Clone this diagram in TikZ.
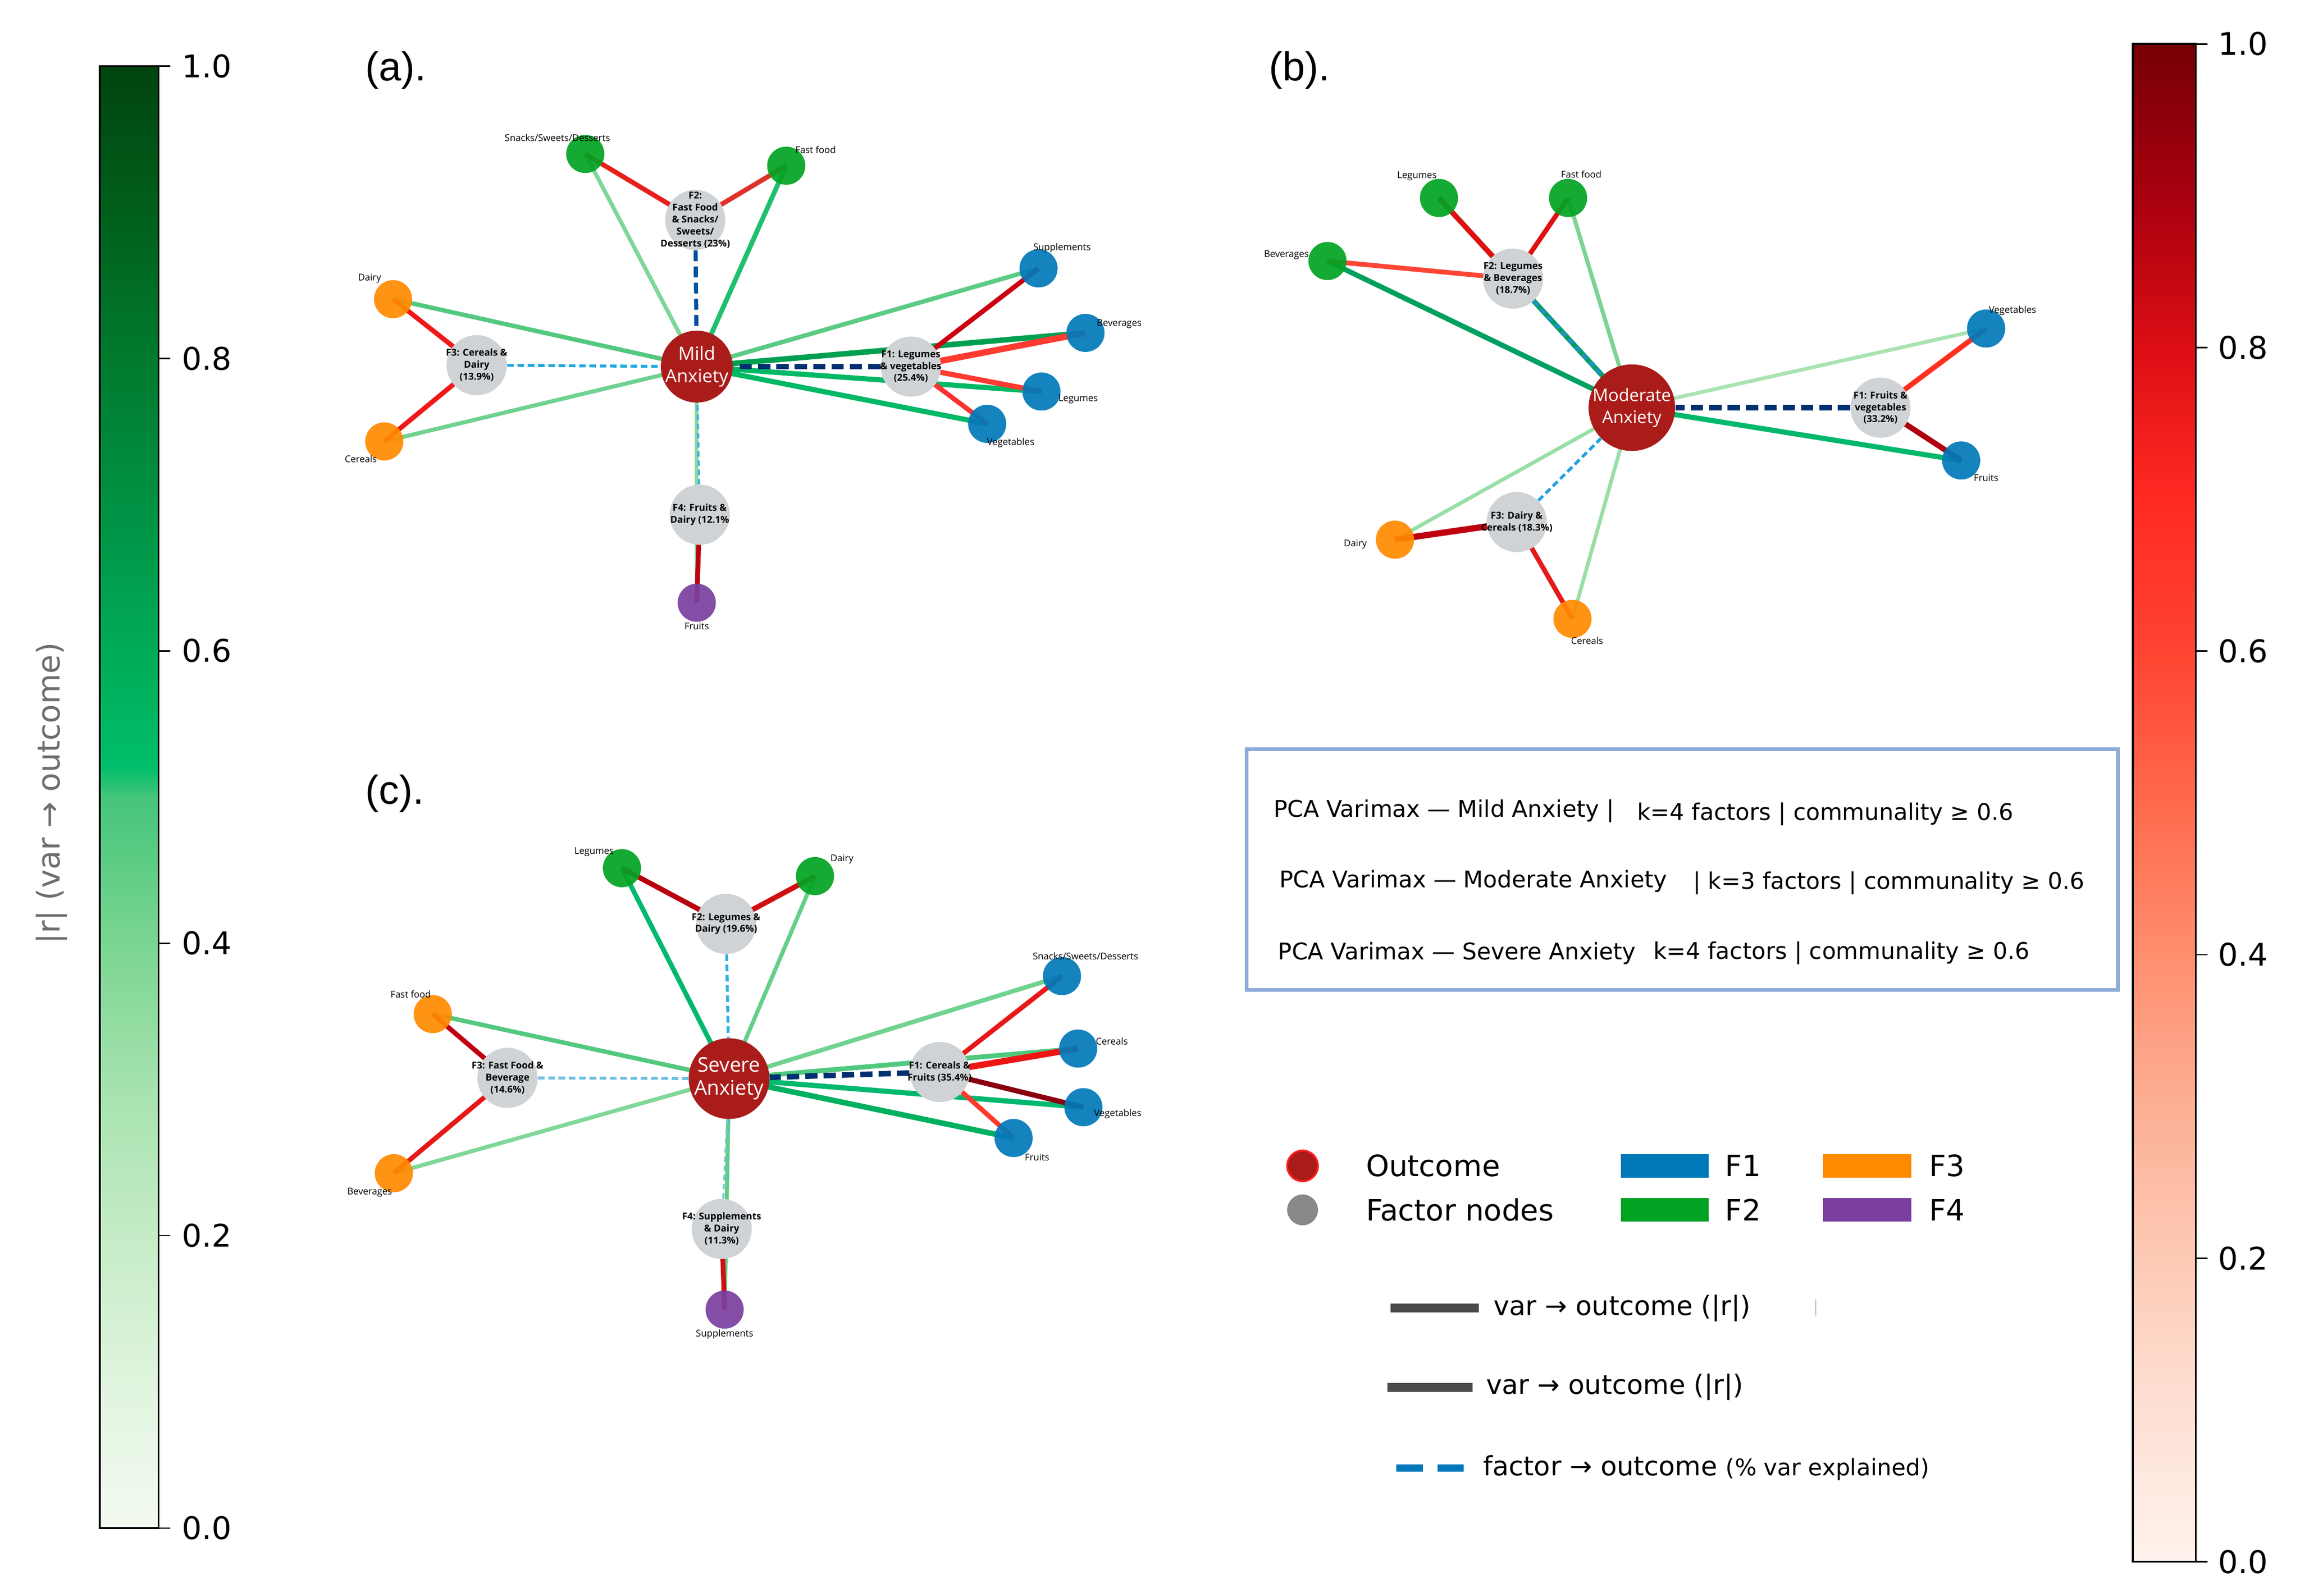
\documentclass[tikz,border=0pt]{standalone}
\usepackage{fontspec}
\setmainfont{DejaVu Sans}
\newfontfamily\osf{Open Sans}
\newfontfamily\lsf{Liberation Sans}
\pgfdeclarelayer{bg}
\pgfsetlayers{bg,main}
\definecolor{outred}{HTML}{A91C1A}
\definecolor{facgray}{HTML}{D0D3D6}
\definecolor{vblue}{HTML}{0079B9}
\definecolor{vgreen}{HTML}{02A323}
\definecolor{vorange}{HTML}{FF8A00}
\definecolor{vpurple}{HTML}{7A3FA0}
\definecolor{boxblue}{HTML}{8EAAD8}
\definecolor{legdark}{HTML}{4A4A48}
\definecolor{legblue}{HTML}{0077BB}
\definecolor{legred}{HTML}{FF2020}
\definecolor{leggray}{HTML}{888888}
\definecolor{cblabel}{HTML}{6E6E6E}
% green colormap stops
\definecolor{gA}{HTML}{F3FAF1}
\definecolor{gB}{HTML}{E0F4DE}
\definecolor{gC}{HTML}{C5ECC6}
\definecolor{gD}{HTML}{A6E2AE}
\definecolor{gE}{HTML}{7AD592}
\definecolor{gF}{HTML}{45C57A}
\definecolor{gG}{HTML}{00BE6A}
\definecolor{gH}{HTML}{00AB56}
\definecolor{gI}{HTML}{009143}
\definecolor{gJ}{HTML}{007A2E}
\definecolor{gK}{HTML}{005F1C}
\definecolor{gL}{HTML}{00440E}
% red colormap stops
\definecolor{rA}{HTML}{FFF2EC}
\definecolor{rB}{HTML}{FEE0D4}
\definecolor{rC}{HTML}{FDCAB5}
\definecolor{rD}{HTML}{FCAF94}
\definecolor{rE}{HTML}{FF8E6E}
\definecolor{rF}{HTML}{FF6A4C}
\definecolor{rG}{HTML}{FF4430}
\definecolor{rH}{HTML}{FF2A22}
\definecolor{rI}{HTML}{DC0E14}
\definecolor{rJ}{HTML}{A8000F}
\definecolor{rK}{HTML}{760005}
\begin{document}
\begin{tikzpicture}[x=0.02808cm, y=-0.02808cm,
  outc/.style={circle, fill=outred, inner sep=0pt, minimum size=#1*0.02808cm},
  varn/.style={circle, fill=#1, fill opacity=0.92, inner sep=0pt, minimum size=26*0.02808cm},
  facn/.style={circle, fill=facgray, inner sep=0pt, minimum size=41*0.02808cm},
  factxt/.style={font=\osf\bfseries\fontsize{5.2}{6.5}\selectfont, align=center, inner sep=0pt, text=black},
  outtxt/.style 2 args={font=\osf\fontsize{#1}{#2}\selectfont, align=center, inner sep=0pt, text=white},
  vlab/.style={font=\osf\fontsize{5.1}{6.5}\selectfont, inner sep=0pt, text=black},
  E/.style 2 args={/utils/exec={\definecolor{ec}{HTML}{#1}}, draw=ec, line width=#2pt},
  D/.style n args={4}{E={#1}{#2}, dash pattern=on #3pt off #4pt},
  plab/.style={font=\lsf\fontsize{22}{26}\selectfont, inner sep=0pt, anchor=west},
  ticklab/.style={font=\fontsize{17}{20}\selectfont, inner sep=0pt, anchor=west},
  pcat/.style={font=\fontsize{12.5}{15}\selectfont, inner sep=0pt, anchor=west},
  legt/.style={font=\fontsize{16}{19}\selectfont, inner sep=0pt, anchor=west},
  legl/.style={font=\fontsize{14.5}{17}\selectfont, inner sep=0pt, anchor=west}
]
\useasboundingbox (0,0) rectangle (1568,1088);
\begin{pgfonlayer}{bg}
\fill[white] (0,0) rectangle (1568,1088);
\end{pgfonlayer}

% ================= Panel (a) =================
\node[plab] (labA) at (249,48) {(a).};
\node[outc=49, label={[outtxt={10}{12.2}]center:{Mild\\Anxiety}}] (aMild) at (475,250) {};
\node[facn, label={[factxt]center:{F2:\\Fast Food\\\& Snacks/\\Sweets/\\Desserts (23\%)}}] (aF2) at (474,150) {};
\node[facn, label={[factxt]center:{F3: Cereals \&\\Dairy\\(13.9\%)}}] (aF3) at (325,249) {};
\node[facn, label={[factxt]center:{F1: Legumes\\\& vegetables\\(25.4\%)}}] (aF1) at (621,250) {};
\node[facn, label={[factxt]center:{F4: Fruits \&\\Dairy (12.1\%}}] (aF4) at (477,351) {};
\node[varn=vgreen] (aSnack) at (399,105) {};
\node[varn=vgreen] (aFast) at (536,113) {};
\node[varn=vorange] (aDairy) at (268,204) {};
\node[varn=vorange] (aCer) at (262,301) {};
\node[varn=vblue] (aSupp) at (708,183) {};
\node[varn=vblue] (aBev) at (740,227) {};
\node[varn=vblue] (aLeg) at (710,267) {};
\node[varn=vblue] (aVeg) at (673,289) {};
\node[varn=vpurple] (aFruit) at (475,411) {};
\node[vlab] (aSnackL) at (380,94) {Snacks/Sweets/Desserts};
\node[vlab] (aFastL) at (556,102) {Fast food};
\node[vlab] (aDairyL) at (252,190) {Dairy};
\node[vlab] (aCerL) at (246,313) {Cereals};
\node[vlab] (aSuppL) at (724,169) {Supplements};
\node[vlab] (aBevL) at (763,221) {Beverages};
\node[vlab] (aLegL) at (735,272) {Legumes};
\node[vlab] (aVegL) at (689,302) {Vegetables};
\node[vlab] (aFruitL) at (475,427) {Fruits};

% ================= Panel (b) =================
\node[plab] (labB) at (865,48) {(b).};
\node[outc=59, label={[outtxt={9.4}{12}]center:{Moderate\\Anxiety}}] (bMod) at (1112.5,278) {};
\node[facn, label={[factxt]center:{F2: Legumes\\\& Beverages\\(18.7\%)}}] (bF2) at (1031.5,190) {};
\node[facn, label={[factxt]center:{F1: Fruits \&\\vegetables\\(33.2\%)}}] (bF1) at (1282,278) {};
\node[facn, label={[factxt]center:{F3: Dairy \&\\Cereals (18.3\%)}}] (bF3) at (1034,356) {};
\node[varn=vgreen] (bLeg) at (981,135) {};
\node[varn=vgreen] (bFast) at (1069,135) {};
\node[varn=vgreen] (bBev) at (905,178) {};
\node[varn=vblue] (bVeg) at (1354,224) {};
\node[varn=vblue] (bFruit) at (1337,314) {};
\node[varn=vorange] (bDairy) at (951,368) {};
\node[varn=vorange] (bCer) at (1072,422) {};
\node[vlab] (bLegL) at (966,120) {Legumes};
\node[vlab] (bFastL) at (1078,119) {Fast food};
\node[vlab] (bBevL) at (877,174) {Beverages};
\node[vlab] (bVegL) at (1372,212) {Vegetables};
\node[vlab] (bFruitL) at (1354,326) {Fruits};
\node[vlab] (bDairyL) at (924,371) {Dairy};
\node[vlab] (bCerL) at (1082,437) {Cereals};

% ================= Panel (c) =================
\node[plab] (labC) at (249,541) {(c).};
\node[outc=55, label={[outtxt={11}{12.6}]center:{Severe\\Anxiety}}] (cSev) at (497,735.5) {};
\node[facn, label={[factxt]center:{F2: Legumes \&\\Dairy (19.6\%)}}] (cF2) at (495,630) {};
\node[facn, label={[factxt]center:{F3: Fast Food \&\\Beverage\\(14.6\%)}}] (cF3) at (346,735) {};
\node[facn, label={[factxt]center:{F1: Cereals \&\\Fruits (35.4\%)}}] (cF1) at (640.6,731) {};
\node[facn, label={[factxt]center:{F4: Supplements\\\& Dairy\\(11.3\%)}}] (cF4) at (492,838) {};
\node[varn=vgreen] (cLeg) at (424,592) {};
\node[varn=vgreen] (cDairy) at (555.6,597.4) {};
\node[varn=vorange] (cFast) at (295,691.5) {};
\node[varn=vorange] (cBev) at (268.5,800) {};
\node[varn=vblue] (cSnack) at (724,665.6) {};
\node[varn=vblue] (cCer) at (735,715) {};
\node[varn=vblue] (cVeg) at (738.6,755) {};
\node[varn=vblue] (cFruit) at (691,776) {};
\node[varn=vpurple] (cSupp) at (494,893) {};
\node[vlab] (cLegL) at (405,581) {Legumes};
\node[vlab] (cDairyL) at (574,586) {Dairy};
\node[vlab] (cFastL) at (280,678) {Fast food};
\node[vlab] (cBevL) at (252,813) {Beverages};
\node[vlab] (cSnackL) at (740,652) {Snacks/Sweets/Desserts};
\node[vlab] (cCerL) at (758,710) {Cereals};
\node[vlab] (cVegL) at (762,759.6) {Vegetables};
\node[vlab] (cFruitL) at (707,789) {Fruits};
\node[vlab] (cSuppL) at (494,909.7) {Supplements};

% ================= Edges =================
\begin{pgfonlayer}{bg}
% --- (a) green: var -> outcome
\draw[E={7FD69A}{2.2}] (aSnack.center) -- (aMild.center);
\draw[E={1FBF6E}{2.6}] (aFast.center) -- (aMild.center);
\draw[E={55C880}{2.4}] (aDairy.center) -- (aMild.center);
\draw[E={6FD290}{2.2}] (aCer.center) -- (aMild.center);
\draw[E={5CCB84}{2.4}] (aSupp.center) -- (aMild.center);
\draw[E={00A050}{3.0}] (aBev.center) -- (aMild.center);
\draw[E={00B865}{2.8}] (aLeg.center) -- (aMild.center);
\draw[E={00B865}{2.8}] (aVeg.center) -- (aMild.center);
\draw[E={8AD9A0}{2.0}] (aFruit.center) -- (aMild.center);
% --- (a) red: factor -> var
\draw[E={E8201C}{2.6}] (aF2.center) -- (aSnack.center);
\draw[E={E0302A}{2.6}] (aF2.center) -- (aFast.center);
\draw[E={F01818}{2.6}] (aF3.center) -- (aDairy.center);
\draw[E={F01818}{2.6}] (aF3.center) -- (aCer.center);
\draw[E={CC0010}{2.6}] (aF1.center) -- (aSupp.center);
\draw[E={FF3A30}{3.4}] (aF1.center) -- (aBev.center);
\draw[E={FF3A30}{2.8}] (aF1.center) -- (aLeg.center);
\draw[E={FF3030}{2.6}] (aF1.center) -- (aVeg.center);
\draw[E={C00010}{2.6}] (aF4.center) -- (aFruit.center);
% --- (a) dashed: factor -> outcome
\draw[D={0050A0}{2.2}{5.9}{2.9}] (aF2) -- (aMild);
\draw[D={20A8E0}{1.6}{3.6}{2}] (aF3) -- (aMild);
\draw[D={003070}{3}{6.7}{3.3}] (aF1) -- (aMild);
\draw[D={40B0E0}{1.2}{3}{2}] (aF4) -- (aMild);

% --- (b) green
\draw[E={00A060}{2.8}] (bLeg.center) -- (bMod.center);
\draw[E={7DD393}{2.2}] (bFast.center) -- (bMod.center);
\draw[E={00A060}{2.8}] (bBev.center) -- (bMod.center);
\draw[E={A8E4B0}{2.0}] (bVeg.center) -- (bMod.center);
\draw[E={00B86A}{2.8}] (bFruit.center) -- (bMod.center);
\draw[E={98DEA5}{2.0}] (bDairy.center) -- (bMod.center);
\draw[E={98DEA5}{2.0}] (bCer.center) -- (bMod.center);
% --- (b) red
\draw[E={E01010}{2.8}] (bF2.center) -- (bLeg.center);
\draw[E={E01010}{2.6}] (bF2.center) -- (bFast.center);
\draw[E={FF4535}{2.6}] (bF2.center) -- (bBev.center);
\draw[E={FF3020}{2.8}] (bF1.center) -- (bVeg.center);
\draw[E={B00010}{3.0}] (bF1.center) -- (bFruit.center);
\draw[E={C00010}{3.4}] (bF3.center) -- (bDairy.center);
\draw[E={E41A1C}{2.6}] (bF3.center) -- (bCer.center);
% --- (b) dashed
\draw[D={003070}{3}{6.7}{3.3}] (bF1) -- (bMod);
\draw[D={20A0E0}{1.6}{3.6}{2}] (bF3) -- (bMod);
\draw[D={2090D0}{1.6}{3.6}{2}] (bF2) -- (bMod);

% --- (c) green
\draw[E={00B870}{2.6}] (cLeg.center) -- (cSev.center);
\draw[E={65CF88}{2.2}] (cDairy.center) -- (cSev.center);
\draw[E={55C880}{2.4}] (cFast.center) -- (cSev.center);
\draw[E={80D898}{2.2}] (cBev.center) -- (cSev.center);
\draw[E={6FD38F}{2.4}] (cSnack.center) -- (cSev.center);
\draw[E={50C87E}{2.6}] (cCer.center) -- (cSev.center);
\draw[E={00B870}{2.8}] (cVeg.center) -- (cSev.center);
\draw[E={00B060}{3.0}] (cFruit.center) -- (cSev.center);
\draw[E={60CC88}{2.2}] (cSupp.center) -- (cSev.center);
% --- (c) red
\draw[E={B80010}{2.8}] (cF2.center) -- (cLeg.center);
\draw[E={D01010}{2.8}] (cF2.center) -- (cDairy.center);
\draw[E={C00010}{2.6}] (cF3.center) -- (cFast.center);
\draw[E={E81818}{2.6}] (cF3.center) -- (cBev.center);
\draw[E={E81818}{2.6}] (cF1.center) -- (cSnack.center);
\draw[E={EE1515}{3.4}] (cF1.center) -- (cCer.center);
\draw[E={8A0010}{2.8}] (cF1.center) -- (cVeg.center);
\draw[E={FF3A2A}{2.6}] (cF1.center) -- (cFruit.center);
\draw[E={D01010}{2.6}] (cF4.center) -- (cSupp.center);
% --- (c) dashed
\draw[D={30B0E0}{1.6}{3.6}{2}] (cF2) -- (cSev);
\draw[D={70C0E0}{1.6}{3.6}{2}] (cF3) -- (cSev);
\draw[D={003070}{3}{6.7}{3.3}] (cF1) -- (cSev);
\draw[D={70C8E0}{1.0}{3}{2}] (cF4) -- (cSev);
\end{pgfonlayer}

% ================= Left colour bar =================
\foreach \va/\vb/\ca/\cb in {0/0.1/gA/gB, 0.1/0.2/gB/gC, 0.2/0.3/gC/gD, 0.3/0.4/gD/gE,
   0.4/0.5/gE/gF, 0.5/0.52/gF/gG, 0.52/0.6/gG/gH, 0.6/0.7/gH/gI, 0.7/0.8/gI/gJ,
   0.8/0.9/gJ/gK, 0.9/1.0/gK/gL}
  \shade[bottom color=\ca, top color=\cb] (68,{1042-997*\va+0.4}) rectangle (108,{1042-997*\vb-0.4});
\draw[line width=1pt] (68,45) rectangle (108,1042);
\foreach \v in {0,0.2,0.4,0.6,0.8,1}
  \draw[line width=0.8pt] (108,{1042-997*\v}) -- (116,{1042-997*\v});
\node[ticklab] (lt0) at (124,1042) {0.0};
\node[ticklab] (lt2) at (124,842.6) {0.2};
\node[ticklab] (lt4) at (124,643.2) {0.4};
\node[ticklab] (lt6) at (124,443.8) {0.6};
\node[ticklab] (lt8) at (124,244.4) {0.8};
\node[ticklab] (lt10) at (124,45) {1.0};
\node[rotate=90, font=\fontsize{17}{20}\selectfont, text=cblabel, inner sep=0pt] (lcbl) at (35,541) {|r| (var → outcome)};

% ================= Right colour bar =================
\foreach \va/\vb/\ca/\cb in {0/0.1/rA/rB, 0.1/0.2/rB/rC, 0.2/0.3/rC/rD, 0.3/0.4/rD/rE,
   0.4/0.5/rE/rF, 0.5/0.6/rF/rG, 0.6/0.7/rG/rH, 0.7/0.8/rH/rI, 0.8/0.9/rI/rJ, 0.9/1.0/rJ/rK}
  \shade[bottom color=\ca, top color=\cb] (1454,{1065-1035*\va+0.4}) rectangle (1497,{1065-1035*\vb-0.4});
\draw[line width=1pt] (1454,30) rectangle (1497,1065);
\foreach \v in {0,0.2,0.4,0.6,0.8,1}
  \draw[line width=0.8pt] (1497,{1065-1035*\v}) -- (1505,{1065-1035*\v});
\node[ticklab] (rt0) at (1512,1065) {0.0};
\node[ticklab] (rt2) at (1512,858) {0.2};
\node[ticklab] (rt4) at (1512,651) {0.4};
\node[ticklab] (rt6) at (1512,444) {0.6};
\node[ticklab] (rt8) at (1512,237) {0.8};
\node[ticklab] (rt10) at (1512,30) {1.0};

% ================= Title box =================
\draw[draw=boxblue, line width=2pt] (850,511) rectangle (1444,675);
\node[pcat] (p1a) at (868,553) {PCA Varimax — Mild Anxiety |};
\node[pcat] (p1b) at (1116,555) {k=4 factors | communality ≥ 0.6};
\node[pcat] (p2a) at (872,601) {PCA Varimax — Moderate Anxiety};
\node[pcat] (p2b) at (1154,602) {| k=3 factors | communality ≥ 0.6};
\node[pcat] (p3a) at (871,650) {PCA Varimax — Severe Anxiety};
\node[pcat] (p3b) at (1127,650) {k=4 factors | communality ≥ 0.6};

% ================= Legend =================
\node[circle, fill=outred, draw=legred, line width=1pt, inner sep=0pt, minimum size=21*0.02808cm] (legOut) at (888,795) {};
\node[circle, fill=leggray, inner sep=0pt, minimum size=21*0.02808cm] (legFac) at (888,825) {};
\node[legt] (legOutT) at (931,795) {Outcome};
\node[legt] (legFacT) at (931,825) {Factor nodes};
\fill[vblue] (1105,787) rectangle (1165,803);
\fill[vgreen] (1105,817) rectangle (1165,833);
\fill[vorange] (1243,787) rectangle (1303,803);
\fill[vpurple] (1243,817) rectangle (1303,833);
\node[legt] (legF1) at (1176,795) {F1};
\node[legt] (legF2) at (1176,825) {F2};
\node[legt] (legF3) at (1315,795) {F3};
\node[legt] (legF4) at (1315,825) {F4};
\fill[legdark] (948,889) rectangle (1008,895);
\node[legl] (legV1) at (1018,892) {var → outcome (|r|)};
\draw[line width=0.6pt, draw=gray!50] (1238,886) -- (1238,897);
\fill[legdark] (946,943) rectangle (1004,949);
\node[legl] (legV2) at (1013,946) {var → outcome (|r|)};
\fill[legblue] (952,998.5) rectangle (970,1003.5);
\fill[legblue] (980,998.5) rectangle (998,1003.5);
\node[legl] (legFo) at (1011,1001) {factor → outcome {\fontsize{12.5}{15}\selectfont(\% var explained)}};
\end{tikzpicture}
\end{document}
